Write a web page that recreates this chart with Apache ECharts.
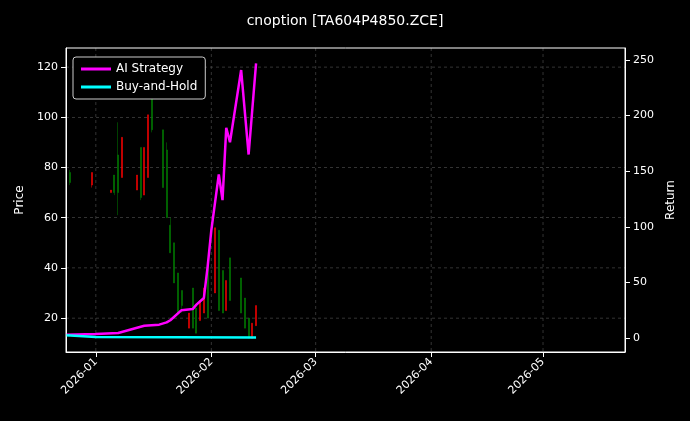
<!DOCTYPE html>
<html>
<head>
<meta charset="utf-8">
<script src="https://cdn.jsdelivr.net/npm/echarts@6/dist/echarts.min.js"></script>
<style>html,body{margin:0;background:#000}#main{width:690px;height:421px}</style>
</head>
<body>
<div id="main"></div>
<script>
// candles: [date, open, close, low, high]
const candles = [
  ['2025-12-25', 78, 74, 73, 79],
  ['2025-12-31', 73, 78, 72, 78],
  ['2026-01-05', 70, 71, 70, 71],
  ['2026-01-06', 77, 70, 69, 77],
  ['2026-01-07', 85, 70, 61, 98],
  ['2026-01-08', 76, 92, 76, 92],
  ['2026-01-12', 71, 77, 71, 77],
  ['2026-01-13', 88, 68, 67, 88],
  ['2026-01-14', 69, 88, 69, 88],
  ['2026-01-15', 76, 101, 76, 101],
  ['2026-01-16', 110, 95, 94, 112],
  ['2026-01-19', 95, 72, 72, 95],
  ['2026-01-20', 87, 60, 60, 90],
  ['2026-01-21', 57, 46, 46, 60],
  ['2026-01-22', 50, 34, 34, 50],
  ['2026-01-23', 38, 22, 22, 38],
  ['2026-01-24', 31, 25, 22, 31],
  ['2026-01-26', 16, 22, 16, 22],
  ['2026-01-27', 32, 16, 16, 32],
  ['2026-01-28', 24, 14, 14, 24],
  ['2026-01-29', 19, 27, 19, 27],
  ['2026-01-30', 22, 32, 22, 32],
  ['2026-01-31', 41, 20, 20, 41],
  ['2026-02-02', 30, 56, 30, 56],
  ['2026-02-03', 55, 23, 23, 55],
  ['2026-02-04', 39, 22, 22, 39],
  ['2026-02-05', 23, 35, 23, 35],
  ['2026-02-06', 44, 27, 27, 44],
  ['2026-02-09', 36, 22, 22, 36],
  ['2026-02-10', 28, 16, 16, 28],
  ['2026-02-11', 20, 12, 12, 20],
  ['2026-02-12', 12, 18, 12, 18],
  ['2026-02-13', 17, 25, 17, 25]
];
const strategy = [
  ['2025-12-24', 3], ['2026-01-01', 3.5], ['2026-01-07', 4.5], ['2026-01-14', 11],
  ['2026-01-18', 12], ['2026-01-20', 14], ['2026-01-21', 16], ['2026-01-24', 25],
  ['2026-01-27', 26], ['2026-01-28', 30], ['2026-01-30', 36], ['2026-01-31', 64],
  ['2026-02-01', 97], ['2026-02-03', 147], ['2026-02-04', 124], ['2026-02-05', 189],
  ['2026-02-06', 176], ['2026-02-09', 241], ['2026-02-11', 165], ['2026-02-13', 247]
];
const buyHold = [['2025-12-24', 2.5], ['2026-01-01', 1], ['2026-02-13', 0.5]];
const monthTicks = ['2026-01-01', '2026-02-01', '2026-03-01', '2026-04-01', '2026-05-01'];
const priceTicks = [20, 40, 60, 80, 100, 120];
const returnTicks = [0, 50, 100, 150, 200, 250];

const ts = d => Date.UTC(+d.slice(0, 4), +d.slice(5, 7) - 1, +d.slice(8, 10));
let chart = echarts.init(document.getElementById('main'));
const tickSet = monthTicks.map(ts);
const white = '#ffffff';
chart.setOption({
  backgroundColor: '#000',
  animation: false,
  textStyle: {fontFamily: 'DejaVu Sans'},
  title: {text: 'cnoption [TA604P4850.ZCE]', left: 'center', top: 9,
    textStyle: {color: white, fontSize: 14, fontWeight: 'normal'}},
  legend: {
    left: 73, top: 57, orient: 'vertical', itemWidth: 30, itemHeight: 3, itemGap: 6,
    backgroundColor: '#000', borderColor: '#ccc', borderWidth: 1, borderRadius: 3, padding: [6, 8],
    textStyle: {color: white, fontSize: 12},
    data: [{name: 'AI Strategy', icon: 'rect'}, {name: 'Buy-and-Hold', icon: 'rect'}]
  },
  grid: {left: 66, right: 65, top: 48, bottom: 69},
  xAxis: {
    type: 'value', min: ts('2025-12-24'), max: ts('2026-05-23'),
    axisLine: {onZero: false, lineStyle: {color: white}},
    axisTick: {show: true, customValues: tickSet, lineStyle: {color: white}},
    splitLine: {show: false},
    axisLabel: {color: white, fontSize: 11, rotate: 45, customValues: tickSet,
      formatter: v => { const d = new Date(v); return d.getUTCFullYear() + '-' + String(d.getUTCMonth() + 1).padStart(2, '0'); }}
  },
  yAxis: [
    {type: 'value', name: 'Price', nameLocation: 'middle', nameGap: 40, min: 6.5, max: 127.6,
      nameTextStyle: {color: white, fontSize: 12},
      axisLine: {show: true, lineStyle: {color: white}},
      axisTick: {show: true, customValues: priceTicks},
      axisLabel: {color: white, fontSize: 11, customValues: priceTicks},
      splitLine: {show: false}},
    {type: 'value', name: 'Return', nameLocation: 'middle', nameGap: 40, min: -12.6, max: 260.8,
      nameTextStyle: {color: white, fontSize: 12},
      axisLine: {show: true, lineStyle: {color: white}},
      axisTick: {show: true, customValues: returnTicks},
      axisLabel: {color: white, fontSize: 11, customValues: returnTicks},
      splitLine: {show: false}}
  ],
  series: [
    {type: 'candlestick', name: 'Price', yAxisIndex: 0, barWidth: 1.5,
      itemStyle: {color: '#ff0000', color0: '#008000', borderColor: '#ff0000', borderColor0: '#008000', borderWidth: 0.5},
      data: candles.map(c => [ts(c[0]), c[1], c[2], c[3], c[4]])},
    {type: 'line', name: 'AI Strategy', yAxisIndex: 1, data: strategy.map(p => [ts(p[0]), p[1]]), showSymbol: false,
      lineStyle: {color: '#ff00ff', width: 2.5}, itemStyle: {color: '#ff00ff'}},
    {type: 'line', name: 'Buy-and-Hold', yAxisIndex: 1, data: buyHold.map(p => [ts(p[0]), p[1]]), showSymbol: false,
      lineStyle: {color: '#00ffff', width: 2.5}, itemStyle: {color: '#00ffff'}}
  ]
});
// dashed grid lines at month ticks and price ticks, plus frame
const g = [];
tickSet.forEach(t => {
  const x = chart.convertToPixel({xAxisIndex: 0}, t);
  g.push({type: 'line', shape: {x1: x, y1: 48, x2: x, y2: 352}, silent: true, z: -1,
    style: {stroke: '#555', lineDash: [3, 3], lineWidth: 0.6}});
});
priceTicks.forEach(v => {
  const y = chart.convertToPixel({yAxisIndex: 0}, v);
  g.push({type: 'line', shape: {x1: 66, y1: y, x2: 625, y2: y}, silent: true, z: -1,
    style: {stroke: '#555', lineDash: [3, 3], lineWidth: 0.6}});
});
g.push({type: 'rect', shape: {x: 66, y: 48, width: 559, height: 304}, silent: true, z: 10,
  style: {fill: null, stroke: white, lineWidth: 1}});
chart.setOption({graphic: g});
</script>
</body>
</html>
